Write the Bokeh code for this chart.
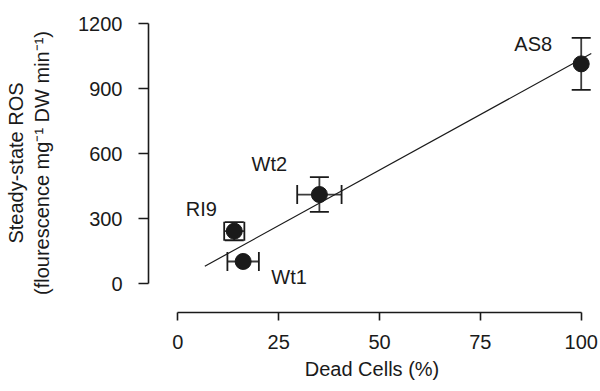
from bokeh.plotting import figure
from bokeh.models import ColumnDataSource, Whisker, TeeHead, FixedTicker, Range1d
from bokeh.core.properties import value
from bokeh.embed import file_html
from bokeh.resources import INLINE

# ---- data ----
names = ["Wt1", "Wt2", "RI9", "AS8"]
dead_cells = [16.2, 35.1, 14.0, 100.0]        # %
dead_err = [3.9, 5.5, 2.5, 0.0]
ros = [103, 412, 243, 1015]                   # fluorescence mg-1 DW min-1
ros_err = [0, 80, 42, 120]
trend_x = [6.7, 102.5]
trend_y = [81, 1063]
x_ticks = [0, 25, 50, 75, 100]
y_ticks = [0, 300, 600, 900, 1200]

# ---- label placement (screen px, style only) ----
label_dx = [46, -50, -33, -48]
label_dy = [16, -31, -22, -20]

INK = "#1a1a1a"
BAR = "#3c3c3c"
FONT = "Liberation Sans"

p = figure(width=600, height=391, output_backend="svg", toolbar_location=None,
           x_range=Range1d(-7.26, 103.54), y_range=Range1d(-132.5, 1247.5),
           min_border_left=148, min_border_right=5, min_border_top=13, min_border_bottom=79)
p.outline_line_color = None
p.grid.visible = False
p.background_fill_color = "white"

# trend line
p.line(trend_x, trend_y, line_color=INK, line_width=1.2)

# error bars
ysel = [i for i, e in enumerate(ros_err) if e > 0]
ysrc = ColumnDataSource(dict(
    x=[dead_cells[i] for i in ysel],
    upper=[ros[i] + ros_err[i] for i in ysel],
    lower=[ros[i] - ros_err[i] for i in ysel]))
p.add_layout(Whisker(base="x", upper="upper", lower="lower", source=ysrc, dimension="height",
                     line_color=BAR, line_width=1.8,
                     upper_head=TeeHead(size=19, line_color=INK, line_width=1.8),
                     lower_head=TeeHead(size=19, line_color=INK, line_width=1.8)))

xsel = [i for i, e in enumerate(dead_err) if e > 0]
xsrc = ColumnDataSource(dict(
    y=[ros[i] for i in xsel],
    upper=[dead_cells[i] + dead_err[i] for i in xsel],
    lower=[dead_cells[i] - dead_err[i] for i in xsel]))
p.add_layout(Whisker(base="y", upper="upper", lower="lower", source=xsrc, dimension="width",
                     line_color=BAR, line_width=1.8,
                     upper_head=TeeHead(size=19, line_color=INK, line_width=1.8),
                     lower_head=TeeHead(size=19, line_color=INK, line_width=1.8)))

src = ColumnDataSource(dict(x=dead_cells, y=ros, name=names, dx=label_dx, dy=label_dy))
p.scatter("x", "y", source=src, size=16, fill_color=INK, line_color=INK)
p.text("x", "y", text="name", source=src, x_offset="dx", y_offset="dy",
       text_font=value(FONT), text_font_size="20px", text_color=INK,
       text_align="center", text_baseline="middle")

# axes
p.xaxis.ticker = FixedTicker(ticks=x_ticks)
p.yaxis.ticker = FixedTicker(ticks=y_ticks)
p.xaxis.bounds = (x_ticks[0], x_ticks[-1])
p.yaxis.bounds = (y_ticks[0], y_ticks[-1])
p.xaxis.axis_label = "Dead Cells (%)"
p.yaxis.axis_label = "Steady-state ROS\n(flourescence mg\u207b\u00b9 DW min\u207b\u00b9)"
for ax in (p.xaxis[0], p.yaxis[0]):
    ax.axis_line_color = INK
    ax.axis_line_width = 1.6
    ax.major_tick_line_color = INK
    ax.major_tick_line_width = 1.6
    ax.major_tick_in = 0
    ax.minor_tick_line_color = None
    ax.major_label_text_font = FONT
    ax.major_label_text_font_size = "20px"
    ax.major_label_text_color = INK
    ax.axis_label_text_font = FONT
    ax.axis_label_text_font_size = "20px"
    ax.axis_label_text_font_style = "normal"
    ax.axis_label_text_color = INK
p.xaxis.major_tick_out = 8
p.yaxis.major_tick_out = 10
p.xaxis.major_label_standoff = 14
p.yaxis.major_label_standoff = 16
p.xaxis.axis_label_standoff = 6
p.yaxis.axis_label_standoff = 22

open("out.html", "w").write(file_html(p, INLINE))
